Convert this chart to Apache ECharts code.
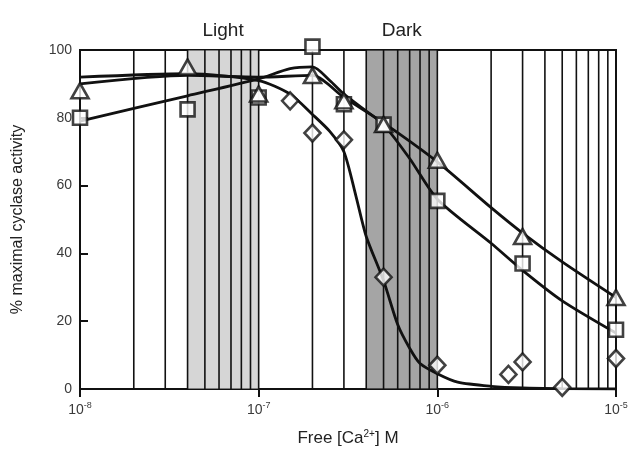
<!DOCTYPE html>
<html>
<head>
<meta charset="utf-8">
<title>cyclase activity</title>
<script src="https://cdn.jsdelivr.net/npm/echarts@6/dist/echarts.min.js"></script>
<style>
  html, body { margin: 0; padding: 0; background: #fff; }
  #main { width: 635px; height: 452px; }
</style>
</head>
<body>
<div id="main"></div>
<script>
// measured points
var triX = [1e-8, 4e-8, 1e-7, 2e-7, 3e-7, 5e-7, 1e-6, 3e-6, 1e-5];
var triY = [88, 95, 87, 92.5, 85, 78, 67.5, 45, 27];
var sqX = [1e-8, 4e-8, 1e-7, 2e-7, 3e-7, 5e-7, 1e-6, 3e-6, 1e-5];
var sqY = [80, 82.5, 86, 101, 84, 78, 55.5, 37, 17.5];
var diaX = [1.5e-7, 2e-7, 3e-7, 5e-7, 1e-6, 2.5e-6, 3e-6, 5e-6, 1e-5];
var diaY = [85, 75.5, 73.5, 33, 7, 4.3, 8, 0.5, 9];

// fitted curves
var triFitX = [1e-8, 4e-8, 1e-7, 2e-7, 3e-7, 5e-7, 1e-6, 2e-6, 3e-6, 5e-6, 1e-5];
var triFitY = [90, 92.5, 92, 92.5, 86, 78.5, 67, 53.5, 46, 37.5, 27];
var sqFitX = [1e-8, 4e-8, 1e-7, 1.5e-7, 2e-7, 2.5e-7, 3e-7, 4e-7, 5e-7, 7e-7, 1e-6, 2e-6, 3e-6, 5e-6, 1e-5];
var sqFitY = [79, 86.5, 91.5, 94.5, 95, 91, 87, 82, 78, 68, 56, 43, 35, 26, 16.5];
var diaFitX = [1e-8, 4e-8, 1e-7, 1.5e-7, 2e-7, 2.5e-7, 3e-7, 3.5e-7, 4e-7, 5e-7, 6e-7, 7e-7, 8e-7, 1e-6, 1.3e-6, 2e-6, 3e-6, 5e-6, 1e-5];
var diaFitY = [92, 93, 91, 87, 81, 76, 70, 57, 45, 32, 19, 12, 7.5, 4.5, 2, 0.8, 0.3, 0.1, 0];

// vertical lines at the minor log ticks
var minorTicks = [2e-8, 3e-8, 4e-8, 5e-8, 6e-8, 7e-8, 8e-8, 9e-8, 1e-7,
                  2e-7, 3e-7, 4e-7, 5e-7, 6e-7, 7e-7, 8e-7, 9e-7, 1e-6,
                  2e-6, 3e-6, 4e-6, 5e-6, 6e-6, 7e-6, 8e-6, 9e-6];
var lightBand = [4e-8, 1e-7];
var darkBand = [4e-7, 1e-6];
var yTicks = [0, 20, 40, 60, 80, 100];

function pairs(xs, ys) {
  return xs.map(function (x, i) { return [x, ys[i]]; });
}

var font = 'Liberation Sans, Arial, sans-serif';
var chart = echarts.init(document.getElementById('main'));

var curveStyle = { color: '#111', width: 2.8 };
var markStyle = { color: '#fff', borderColor: '#111', borderWidth: 2.6 };
var yMin = yTicks[0], yMax = yTicks[yTicks.length - 1];

chart.setOption({
  animation: false,
  textStyle: { fontFamily: font },
  grid: { left: 80, right: 19, top: 50, bottom: 63, show: true, borderColor: '#111', borderWidth: 2, backgroundColor: 'transparent' },
  xAxis: {
    type: 'log', logBase: 10, min: 1e-8, max: 1e-5,
    name: 'Free [Ca{s|2+}] M', nameLocation: 'middle', nameGap: 40,
    nameTextStyle: { fontSize: 17, color: '#222', fontFamily: font, rich: { s: { fontSize: 10, padding: [0, 0, 9, 0], color: '#222' } } },
    axisLine: { lineStyle: { color: '#111', width: 2 } },
    axisTick: { show: true, length: 8, lineStyle: { color: '#111', width: 2 } },
    splitLine: { show: false },
    axisLabel: {
      margin: 12, color: '#3a3a3a', fontSize: 14,
      formatter: function (v) { return '10{s|' + Math.round(Math.log10(v)) + '}'; },
      rich: { s: { fontSize: 9, padding: [0, 0, 9, 0], color: '#3a3a3a' } }
    }
  },
  yAxis: {
    type: 'value', min: yMin, max: yMax, interval: 20,
    name: '% maximal cyclase activity', nameLocation: 'middle', nameGap: 54,
    nameTextStyle: { fontSize: 16, color: '#222', fontFamily: font },
    axisLine: { show: true, lineStyle: { color: '#111', width: 2 } },
    axisTick: { show: true, inside: true, length: 8, lineStyle: { color: '#111', width: 2 } },
    splitLine: { show: false },
    axisLabel: { color: '#3a3a3a', fontSize: 14, margin: 8 }
  },
  series: [
    {
      // minor gridlines
      type: 'custom', z: 1, silent: true,
      data: minorTicks,
      encode: { x: 0 },
      renderItem: function (params, api) {
        var v = api.value(0);
        var p0 = api.coord([v, yMin]);
        var p1 = api.coord([v, yMax]);
        return {
          type: 'line',
          shape: { x1: p0[0], y1: p0[1], x2: p1[0], y2: p1[1] },
          style: { stroke: '#111', lineWidth: 1.6 }
        };
      }
    },
    { type: 'line', data: pairs(triFitX, triFitY), showSymbol: false, smooth: 0.25, lineStyle: curveStyle, z: 2 },
    { type: 'line', data: pairs(sqFitX, sqFitY), showSymbol: false, smooth: 0.25, lineStyle: curveStyle, z: 2 },
    { type: 'line', data: pairs(diaFitX, diaFitY), showSymbol: false, smooth: 0.25, lineStyle: curveStyle, z: 2 },
    { type: 'scatter', data: pairs(diaX, diaY), symbol: 'diamond', symbolSize: [16, 17], itemStyle: markStyle, clip: false, z: 3 },
    { type: 'scatter', data: pairs(sqX, sqY), symbol: 'rect', symbolSize: 14, itemStyle: markStyle, clip: false, z: 3 },
    { type: 'scatter', data: pairs(triX, triY), symbol: 'triangle', symbolSize: [17, 15], itemStyle: markStyle, clip: false, z: 3 },
    {
      type: 'line', data: [], z: 10, silent: true,
      markArea: {
        silent: true,
        label: { show: true, position: 'top', distance: 10, fontSize: 19, color: '#222', fontFamily: font },
        data: [
          [{ name: 'Light', xAxis: lightBand[0], itemStyle: { color: 'rgba(190,190,190,0.63)' } }, { xAxis: lightBand[1] }],
          [{ name: 'Dark', xAxis: darkBand[0], itemStyle: { color: 'rgba(109,109,109,0.62)' } }, { xAxis: darkBand[1] }]
        ]
      }
    }
  ]
});
</script>
</body>
</html>
